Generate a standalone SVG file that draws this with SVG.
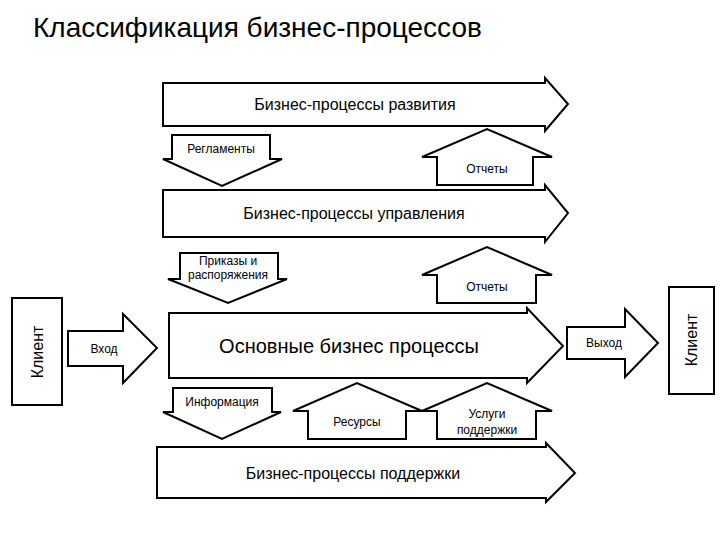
<svg xmlns="http://www.w3.org/2000/svg" width="720" height="540" viewBox="0 0 720 540">
<style>
.sh{fill:#fff;stroke:#000;stroke-width:2;stroke-linejoin:miter}
text{font-family:"Liberation Sans",Arial,sans-serif;fill:#000;text-anchor:middle}
.t{font-size:28px;text-anchor:start}
.b{font-size:16px}
.m{font-size:20px}
.s{font-size:12px}
.k{font-size:16px}
</style>
<rect width="720" height="540" fill="#fff"/>
<text class="t" x="33" y="37">Классификация бизнес-процессов</text>
<g id="connectors">
<g id="reglamenty"><polygon class="sh" points="172,135 270,135 270,159 282,159 222,186 163,159 172,159"/><text class="s" x="221" y="153">Регламенты</text></g>
<g id="otchety1"><polygon class="sh" points="437,185 533,185 533,157 552,157 487,129 422,157 437,157"/><text class="s" x="487" y="173">Отчеты</text></g>
<g id="prikazy"><polygon class="sh" points="180,253 278,253 278,279 287,279 228,303 168,279 180,279"/><text class="s" x="228" y="265">Приказы и</text><text class="s" x="228" y="279">распоряжения</text></g>
<g id="otchety2"><polygon class="sh" points="437,303 536,303 536,275 552,275 487,247 422,275 437,275"/><text class="s" x="487" y="291">Отчеты</text></g>
<g id="vhod"><polygon class="sh" points="68,331 123,331 123,314 157,348 123,383 123,366 68,366"/><text class="s" x="104" y="353">Вход</text></g>
<g id="vyhod"><polygon class="sh" points="567,327 625,327 625,309 658,343 625,377 625,359 567,359"/><text class="s" x="604" y="347">Выход</text></g>
<g id="informacia"><polygon class="sh" points="173,388 272,388 272,412 281,412 222,439 163,412 173,412"/><text class="s" x="222" y="406">Информация</text></g>
<g id="resursy"><polygon class="sh" points="308,439 406,439 406,411 422,411 357,383 293,411 308,411"/><text class="s" x="357" y="426">Ресурсы</text></g>
<g id="uslugi"><polygon class="sh" points="437,439 536,439 536,411 552,411 487,383 422,411 437,411"/><text class="s" x="487" y="418">Услуги</text><text class="s" x="487" y="434">поддержки</text></g>
</g>
<g id="razvitie"><polygon class="sh" points="163,83 545,83 545,78 568,104 545,131 545,126 163,126"/><text class="b" x="355" y="110">Бизнес-процессы развития</text></g>
<g id="upravlenie"><polygon class="sh" points="163,190 545,190 545,185 568,213 545,242 545,237 163,237"/><text class="b" x="354" y="219">Бизнес-процессы управления</text></g>
<g id="osnovnye"><polygon class="sh" points="169,313 527,313 527,308 563,346 527,383 527,378 169,378"/><text class="m" x="349" y="353">Основные бизнес процессы</text></g>
<g id="podderzhka"><polygon class="sh" points="157,447 546,447 546,443 575,473 546,502 546,498 157,498"/><text class="b" x="353" y="479">Бизнес-процессы поддержки</text></g>
<g id="klient-left"><rect class="sh" x="12" y="298" width="50" height="107"/><text class="k" transform="translate(43,352) rotate(-90)">Клиент</text></g>
<g id="klient-right"><rect class="sh" x="669" y="287" width="45" height="107"/><text class="k" transform="translate(697,340) rotate(-90)">Клиент</text></g>
</svg>
